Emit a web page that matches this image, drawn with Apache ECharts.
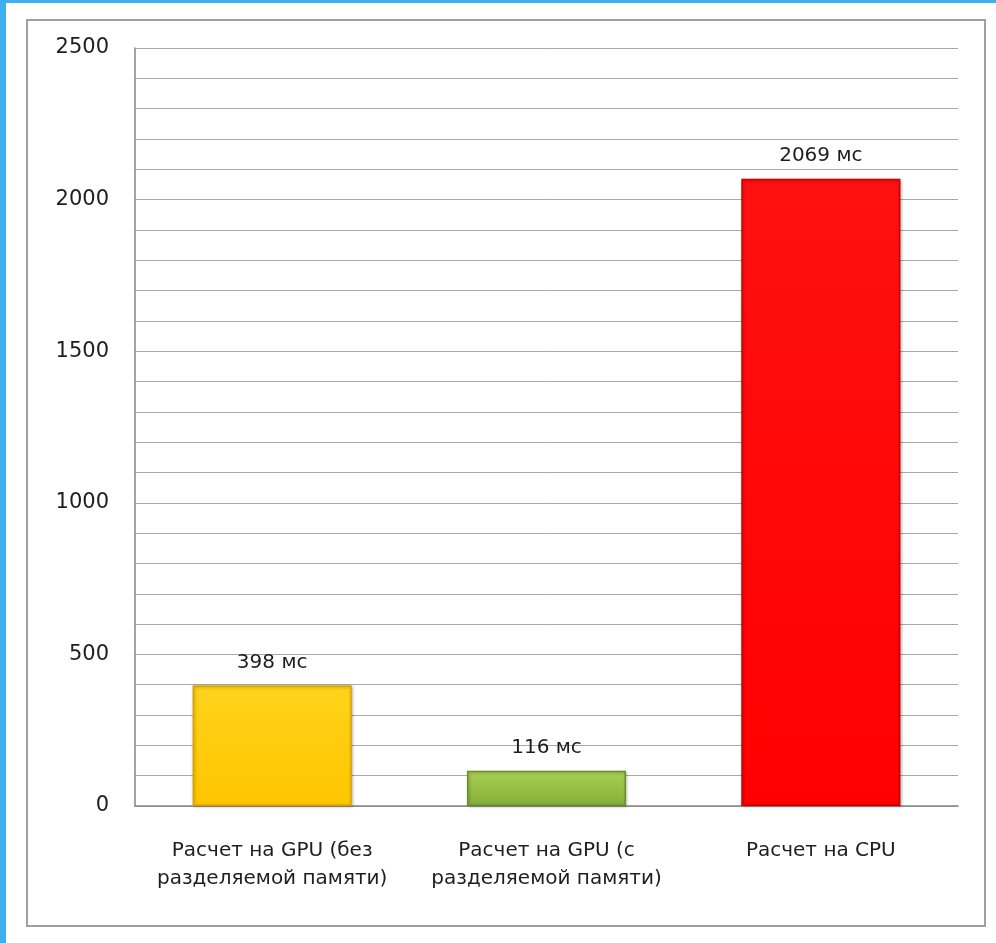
<!DOCTYPE html>
<html><head><meta charset="utf-8">
<script src="https://cdn.jsdelivr.net/npm/echarts@6/dist/echarts.min.js"></script>
<style>html,body{margin:0;padding:0;background:#fff}#c{width:996px;height:943px}</style>
</head><body><div id="c"></div>
<script>
var categories = ['Расчет на GPU (без\nразделяемой памяти)', 'Расчет на GPU (с\nразделяемой памяти)', 'Расчет на CPU'];
var values = [398, 116, 2069];
var unit = ' мс';
var yMax = 2500;
var yLabelStep = 500;

var fills = [
  {c0:'#ffd21a', c1:'#ffc600', border:'#d9a400'},
  {c0:'#a9d150', c1:'#86ad3c', border:'#6b8f2a'},
  {c0:'#ff1010', c1:'#ff0000', border:'#c80000'}
];
var font = 'DejaVu Sans';
var chart = echarts.init(document.getElementById('c'));
chart.setOption({
  animation:false,
  backgroundColor:'#fff',
  graphic:[
    {type:'rect', shape:{x:0,y:0,width:6,height:943}, style:{fill:'#3fb0ef'}, z:100},
    {type:'rect', shape:{x:0,y:0,width:996,height:3}, style:{fill:'#3fb0ef'}, z:100},
    {type:'rect', shape:{x:27,y:20,width:958,height:906}, style:{fill:'none', stroke:'#a0a0a0', lineWidth:2}, z:100}
  ],
  grid:{left:135, right:38, top:48, bottom:137},
  xAxis:{
    type:'category', data:categories,
    axisLine:{lineStyle:{color:'#868686', width:1.5}},
    axisTick:{show:false},
    axisLabel:{color:'#1e1e1e', fontFamily:font, fontSize:20, lineHeight:28, margin:31,
      interval:0, hideOverlap:false}
  },
  yAxis:{
    type:'value', min:0, max:yMax, interval:100,
    axisLine:{show:true, lineStyle:{color:'#868686', width:1.5}},
    axisTick:{show:false},
    splitLine:{lineStyle:{color:'#a8a8a8', width:1}},
    axisLabel:{color:'#1e1e1e', fontFamily:font, fontSize:21, margin:26,
      formatter:function(v){return v % yLabelStep === 0 ? String(v) : '';}}
  },
  series:[{
    type:'bar', barWidth:'58%',
    data: values.map(function(v,i){
      var f = fills[i];
      return {value:v, itemStyle:{
        color:new echarts.graphic.LinearGradient(0,0,0,1,[{offset:0,color:f.c0},{offset:1,color:f.c1}]),
        borderColor:f.border, borderWidth:1.5,
        shadowColor:'rgba(0,0,0,0.25)', shadowBlur:3, shadowOffsetX:1, shadowOffsetY:1
      }};
    }),
    label:{show:true, position:'top', distance:13, color:'#1e1e1e', fontFamily:font, fontSize:20,
      formatter:function(p){return p.value + unit;}}
  }]
});
</script></body></html>
